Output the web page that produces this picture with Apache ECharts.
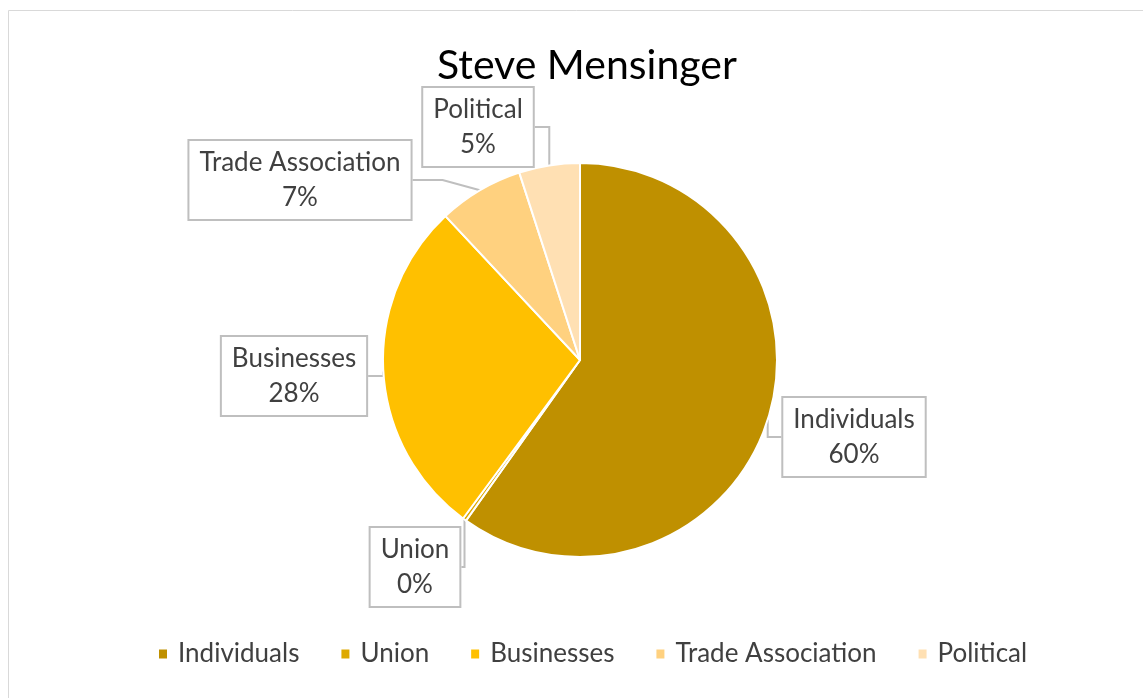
<!DOCTYPE html>
<html>
<head>
<meta charset="utf-8">
<script src="https://cdn.jsdelivr.net/npm/echarts@6/dist/echarts.min.js"></script>
<style>
  html, body { margin: 0; padding: 0; background: #fff; }
  #chart { width: 1143px; height: 698px; }
</style>
</head>
<body>
<div id="chart"></div>
<script>
const categories = ["Individuals", "Union", "Businesses", "Trade Association", "Political"];
const amounts = [60, 0.3, 28, 7, 5];
const sliceColors = ["#BF9000", "#DEA900", "#FFC000", "#FFD17F", "#FFE0B3"];

// where each callout box sits (centre), by data index
const calloutPos = [
  [854, 437],
  [415, 567],
  [294, 376],
  [300, 180],
  [478, 127],
];

const chart = echarts.init(document.getElementById("chart"));

const option = {
  animation: false,
  color: sliceColors,
  title: {
    text: "Steve Mensinger",
    left: 432,
    top: 40,
    textStyle: {
      fontFamily: "Lato",
      fontSize: 41,
      fontWeight: "normal",
      color: "#000",
    },
  },
  legend: {
    bottom: 26,
    left: 152,
    itemWidth: 10,
    itemHeight: 11,
    itemGap: 40,
    icon: "rect",
    textStyle: {
      fontFamily: "Lato",
      fontSize: 26,
      color: "#404040",
      padding: [0, 0, 0, 5],
    },
    data: categories,
  },
  graphic: [
    {
      type: "rect",
      shape: { x: 8.5, y: 10.5, width: 1140, height: 700 },
      style: { fill: "none", stroke: "#D9D9D9", lineWidth: 1 },
      silent: true,
    },
  ],
  series: [
    {
      type: "pie",
      center: [580, 360],
      radius: 197,
      startAngle: 90,
      percentPrecision: 0,
      itemStyle: { borderColor: "#fff", borderWidth: 2 },
      data: categories.map((name, i) => ({ name, value: amounts[i] })),
      label: {
        show: true,
        formatter: "{b}\n{d}%",
        fontFamily: "Lato",
        fontSize: 26,
        lineHeight: 35,
        color: "#404040",
        align: "center",
        backgroundColor: "#fff",
        borderColor: "#BFBFBF",
        borderWidth: 2,
        padding: [4, 10],
      },
      labelLine: {
        show: true,
        lineStyle: { color: "#BFBFBF", width: 2 },
      },
      labelLayout: (params) => {
        const p = calloutPos[params.dataIndex];
        return { x: p[0], y: p[1], align: "center", verticalAlign: "middle" };
      },
    },
  ],
};

chart.setOption(option);
</script>
</body>
</html>
